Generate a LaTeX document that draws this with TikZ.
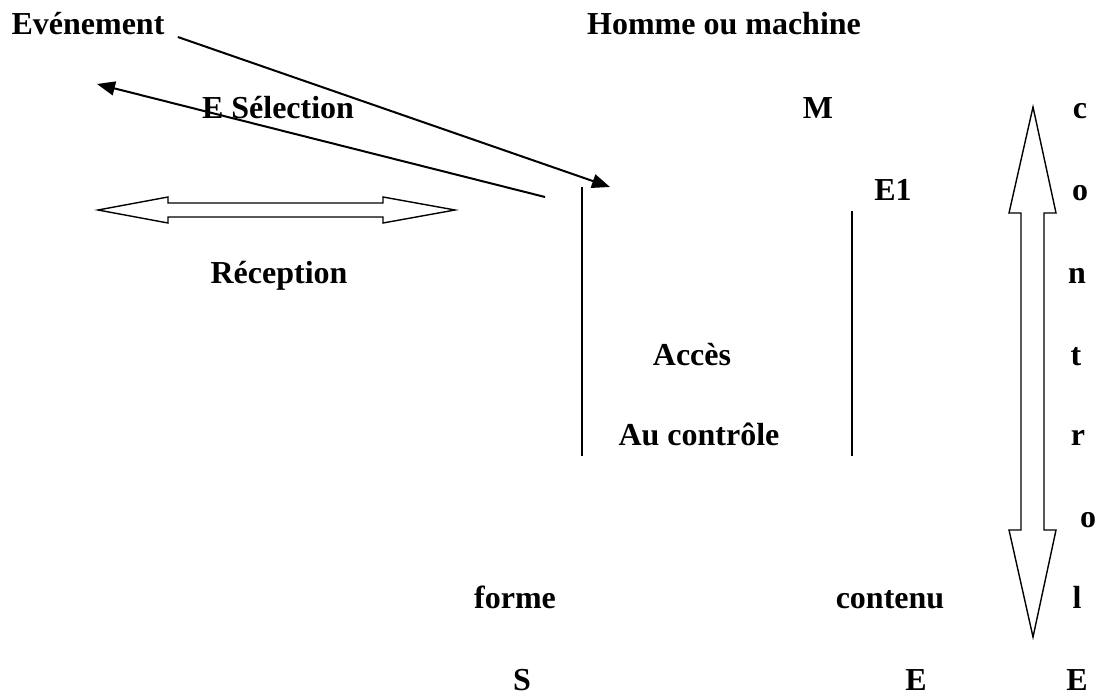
\documentclass[tikz,border=0pt]{standalone}
\usepackage{fontspec}
\setmainfont{Liberation Serif}
\usetikzlibrary{positioning,arrows.meta}

\begin{document}
\begin{tikzpicture}[
    x=0.5pt, y=-0.5pt,
    lbl/.style={
        inner sep=0pt, anchor=base,
        font=\fontsize{16}{19}\selectfont\bfseries
    },
    flow/.style={
        -{Triangle[length=9pt,width=7pt]},
        line width=1pt
    },
    bar/.style={line width=0.9pt},
    hollow/.style={line width=0.7pt, line join=miter, fill=white}
]
\useasboundingbox (0,0) rectangle (1101,695);

% left and middle labels
\node[lbl] (evt) at (88,35) {Evénement};
\node[lbl] (homme) at (724,35) {Homme ou machine};
\node[lbl] (esel) at (278,119) {E Sélection};
\node[lbl] (m) at (818,119) {M};
\node[lbl] (e1) at (893,200) {E1};
\node[lbl] (recep) at (279,283) {Réception};
\node[lbl] (acces) at (692,365) {Accès};
\node[lbl] (auctrl) at (699,445) {Au contrôle};
\node[lbl] (forme) at (515,608) {forme};
\node[lbl] (contenu) at (890,608) {contenu};
\node[lbl] (s) at (522,690) {S};
\node[lbl] (e2) at (916,690) {E};

% right column
\node[lbl] (c) at (1080,119) {c};
\node[lbl] (o1) at (1080,200) {o};
\node[lbl] (n) at (1077,283) {n};
\node[lbl] (t) at (1076,365) {t};
\node[lbl] (r) at (1078,445) {r};
\node[lbl] (o2) at (1088,527) {o};
\node[lbl] (l) at (1077,608) {l};
\node[lbl] (e3) at (1077,690) {E};

\coordinate (tipsel) at (610,187);
\coordinate (backfrom) at (545,197);
\coordinate (backto) at (97,84);
\coordinate (bar1top) at (582,187);
\coordinate (bar1bot) at (582,456);
\coordinate (bar2top) at (852,211);
\coordinate (bar2bot) at (852,456);

\draw[flow] ([shift={(13,2)}]evt.base east) -- (tipsel);
\draw[flow] (backfrom) -- (backto);
\draw[bar] (bar1top) -- (bar1bot);
\draw[bar] (bar2top) -- (bar2bot);

% double arrows
\draw[hollow] (98,210) -- (168,197) -- (168,203) -- (383,203) -- (383,197) -- (455,210)
    -- (383,223) -- (383,217) -- (168,217) -- (168,223) -- cycle;
\draw[hollow] (1033,107) -- (1056,213) -- (1044,213) -- (1044,530) -- (1056,530) -- (1033,637)
    -- (1009,530) -- (1021,530) -- (1021,213) -- (1009,213) -- cycle;

\end{tikzpicture}
\end{document}
